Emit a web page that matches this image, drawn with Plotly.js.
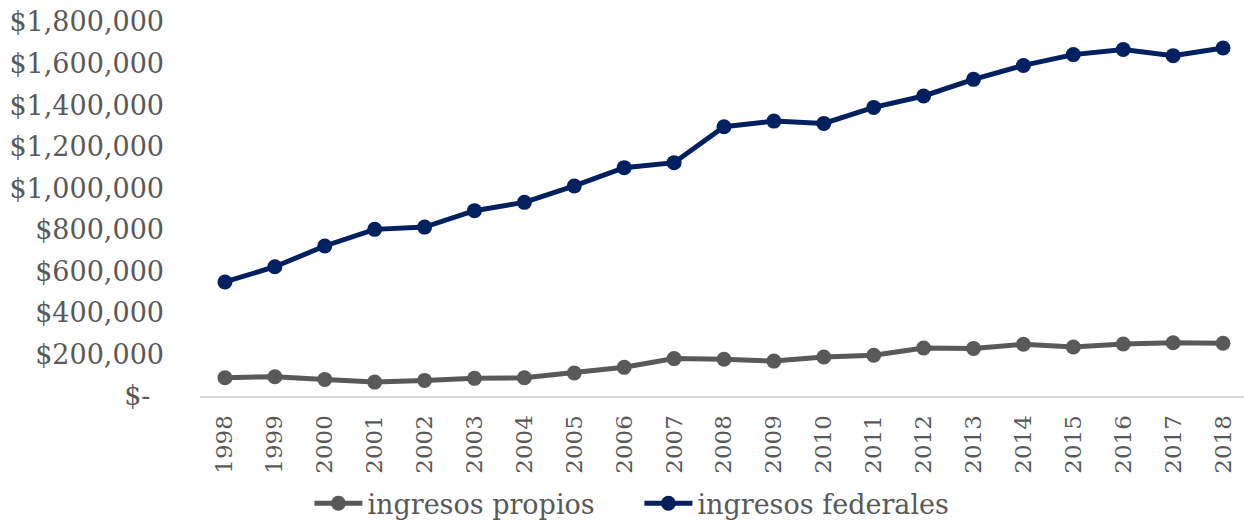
<!DOCTYPE html>
<html>
<head>
<meta charset="utf-8">
<script src="https://cdn.plot.ly/plotly-3.0.1.min.js"></script>
<style>html,body{margin:0;padding:0;background:#fff;}#chart{width:1244px;height:522px;}</style>
</head>
<body>
<div id="chart"></div>
<script>
const years = ["1998","1999","2000","2001","2002","2003","2004","2005","2006","2007","2008","2009","2010","2011","2012","2013","2014","2015","2016","2017","2018"];
const ingresosPropios = [88000,93000,80000,67000,75000,85000,88000,111000,138000,180000,177000,168000,188000,196000,231000,229000,249000,236000,250000,256000,254000];
const ingresosFederales = [549000,622000,722000,802000,813000,892000,932000,1011000,1099000,1123000,1296000,1323000,1312000,1389000,1444000,1524000,1591000,1643000,1668000,1638000,1675000];
const yTickVals = [0,200000,400000,600000,800000,1000000,1200000,1400000,1600000,1800000];
const yTickText = ["$-\u2002","$200,000","$400,000","$600,000","$800,000","$1,000,000","$1,200,000","$1,400,000","$1,600,000","$1,800,000"];

const font = "DejaVu Serif, serif";
const traces = [
  {x: years, y: ingresosPropios, name: "ingresos propios", type: "scatter", mode: "lines+markers",
   line: {color: "#595959", width: 5}, marker: {color: "#595959", size: 15}},
  {x: years, y: ingresosFederales, name: "ingresos federales", type: "scatter", mode: "lines+markers",
   line: {color: "#002060", width: 5}, marker: {color: "#002060", size: 15}}
];
const layout = {
  width: 1244, height: 522,
  margin: {l: 200, r: 0, t: 22, b: 126},
  paper_bgcolor: "#fff", plot_bgcolor: "#fff",
  showlegend: true,
  legend: {orientation: "h", xref: "container", yref: "container", x: 0.514, xanchor: "center", y: 0.035, yanchor: "middle",
           font: {family: font, size: 27, color: "#595959"}, itemwidth: 48, entrywidth: 267},
  xaxis: {type: "category", range: [-0.5, 20.42], tickangle: -90, showgrid: false, zeroline: false,
          showline: true, linecolor: "#d9d9d9", linewidth: 2, ticks: "", ticklabelstandoff: 8,
          tickfont: {family: font, size: 23, color: "#595959"}, fixedrange: true},
  yaxis: {range: [0, 1800000], tickvals: yTickVals, ticktext: yTickText, showgrid: false, zeroline: false,
          showline: false, ticks: "", ticklabelstandoff: 35,
          tickfont: {family: font, size: 27, color: "#595959"}, fixedrange: true}
};
Plotly.newPlot("chart", traces, layout, {displayModeBar: false, staticPlot: true});
</script>
</body>
</html>
